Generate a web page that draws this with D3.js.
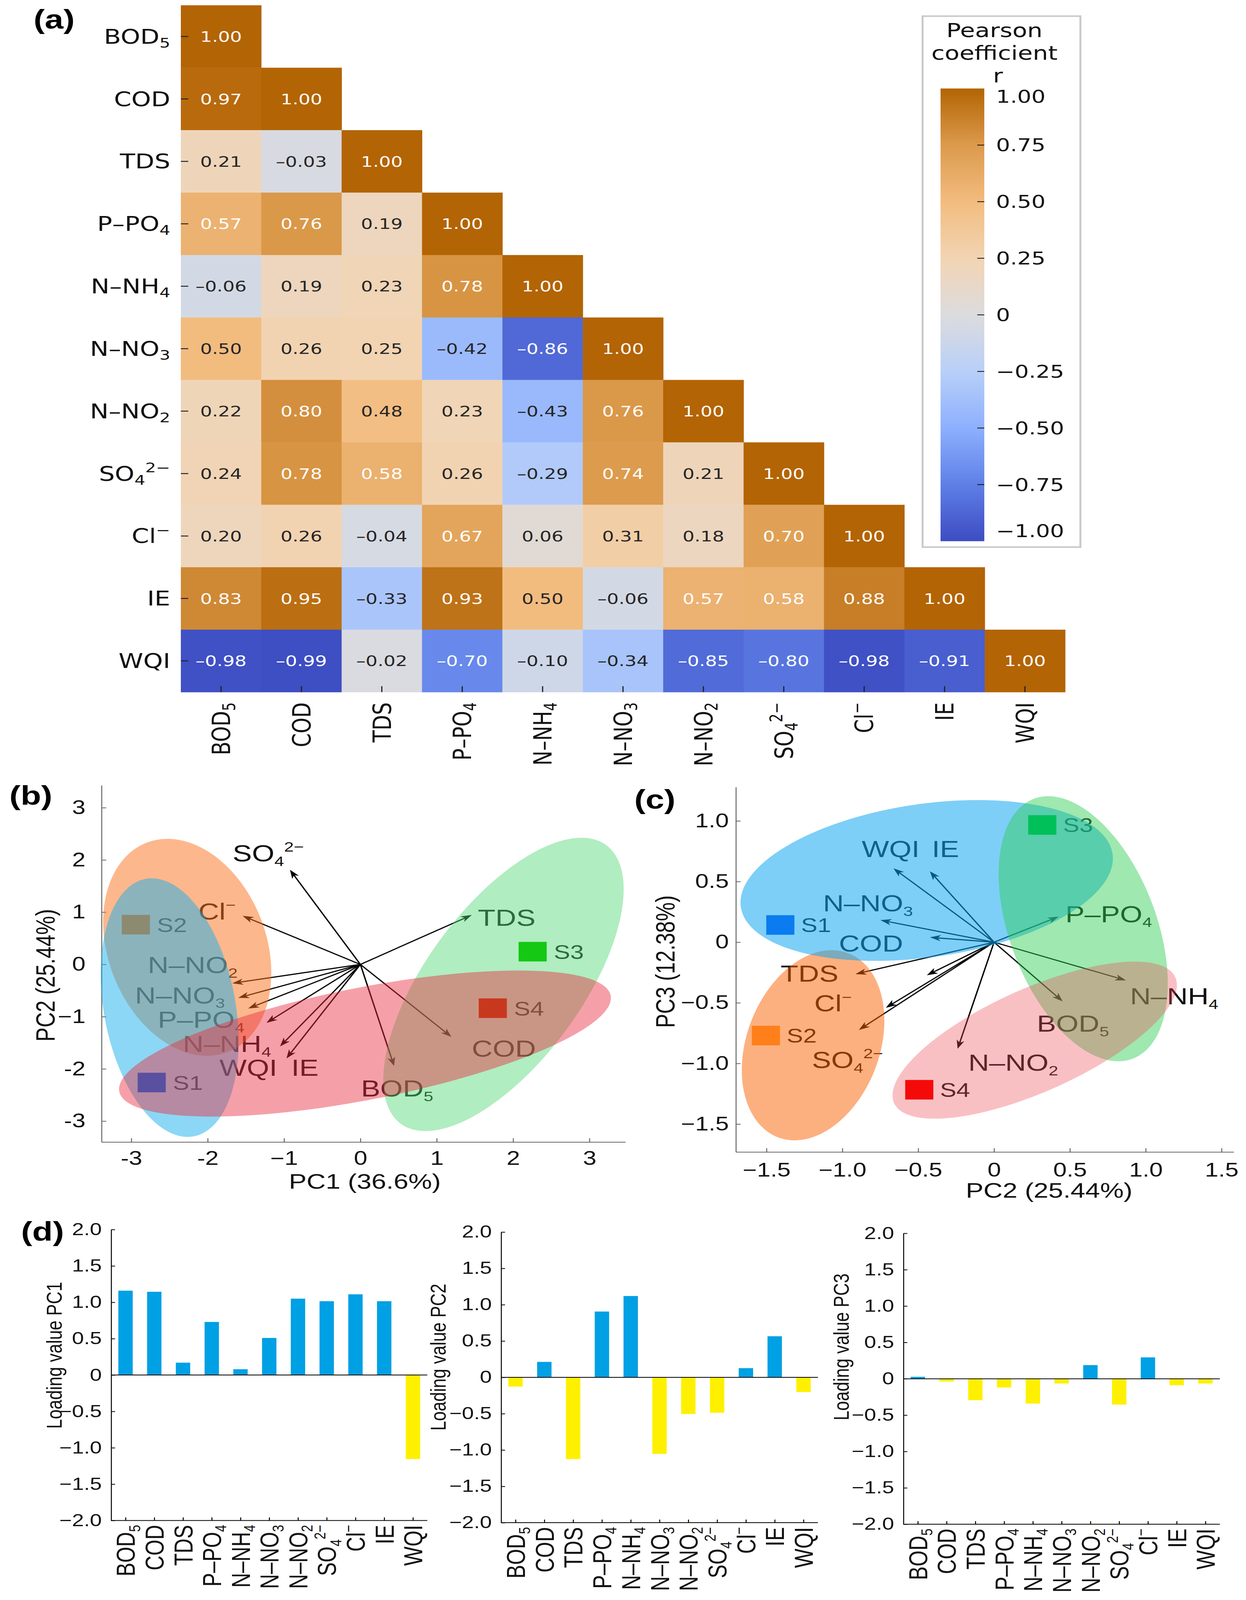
<!DOCTYPE html>
<html><head><meta charset="utf-8">
<script src="https://cdn.jsdelivr.net/npm/d3@7"></script>
<style>html,body{margin:0;padding:0;background:#fff;overflow:hidden}</style>
</head><body>
<svg id="fig" viewBox="0 0 3190 5153" preserveAspectRatio="none" style="display:block;width:100vw;height:100vh" xmlns="http://www.w3.org/2000/svg"></svg>
<script>
// ================= DATA =================
const variables = ["BOD5","COD","TDS","PPO4","NNH4","NNO3","NNO2","SO4","Cl","IE","WQI"];
const corrRows = [
  [1.00],
  [0.97, 1.00],
  [0.21, -0.03, 1.00],
  [0.57, 0.76, 0.19, 1.00],
  [-0.06, 0.19, 0.23, 0.78, 1.00],
  [0.50, 0.26, 0.25, -0.42, -0.86, 1.00],
  [0.22, 0.80, 0.48, 0.23, -0.43, 0.76, 1.00],
  [0.24, 0.78, 0.58, 0.26, -0.29, 0.74, 0.21, 1.00],
  [0.20, 0.26, -0.04, 0.67, 0.06, 0.31, 0.18, 0.70, 1.00],
  [0.83, 0.95, -0.33, 0.93, 0.50, -0.06, 0.57, 0.58, 0.88, 1.00],
  [-0.98, -0.99, -0.02, -0.70, -0.10, -0.34, -0.85, -0.80, -0.98, -0.91, 1.00]
];
const colorStops = [-1, -0.75, -0.5, -0.25, 0, 0.25, 0.5, 0.75, 1];
const colorStopColors = ["#3d4cc2","#5f7fe6","#8db0fe","#b8cff8","#dcdcde","#f2d4b3","#f2bc7f","#dc9a4c","#b36404"];
const colorbarTicks = [1, 0.75, 0.5, 0.25, 0, -0.25, -0.5, -0.75, -1];
const colorbarTickLabels = ["1.00","0.75","0.50","0.25","0","\u22120.25","\u22120.50","\u22120.75","\u22121.00"];

// PCA biplot (b): PC1 vs PC2
const sampleNames = ["S1","S2","S3","S4"];
const bArrowVars = ["SO4","Cl","TDS","NNO2","NNO3","PPO4","NNH4","WQI","IE","BOD5","COD"];
const bArrowX = [-0.922, -1.543, 1.459, -1.678, -1.600, -1.470, -1.230, -1.052, -0.968, 0.441, 1.192];
const bArrowY = [1.810, 0.930, 0.947, -0.361, -0.641, -0.844, -1.119, -1.569, -1.800, -1.943, -1.388];
const bLabelX = [-1.673, -2.123, 1.537, -2.785, -2.952, -2.655, -2.326, -1.846, -0.905, 0.008, 1.459];
const bLabelY = [1.975, 0.862, 0.739, -0.168, -0.745, -1.212, -1.679, -2.135, -2.135, -2.531, -1.762];
const bScoreX = [-2.733, -2.941, 2.256, 1.734];
const bScoreY = [-2.261, 0.761, 0.244, -0.838];
// group ellipses (b): order orange(S2), blue(S1), green(S3), red(S4)
const bEllCX = [-2.268, -2.498, 1.874, 0.060];
const bEllCY = [0.327, -0.827, -0.383, -1.515];
const bEllSdX = [1.101, 0.903, 1.574, 3.221];
const bEllSdY = [2.077, 2.475, 2.808, 1.398];
const bEllCov = [-0.5377, -0.5812, 2.868, 2.808];
const bTicks = [-3, -2, -1, 0, 1, 2, 3];
const bXTickLabels = ["-3","-2","\u22121","0","1","2","3"];
const bYTickLabels = ["-3","-2","\u22121","0","1","2","3"];

// PCA biplot (c): PC2 vs PC3
const cArrowX = [-0.663, -0.423, -0.749, -0.423, 0.426, 0.870, 0.452, -0.240, -0.914, -0.443, -0.713, -0.891];
const cArrowY = [0.609, 0.585, 0.182, 0.040, 0.211, -0.315, -0.488, -0.879, -0.263, -0.273, -0.541, -0.724];
const cLabelVars = ["WQI","IE","NNO3","COD","PPO4","NNH4","BOD5","NNO2","TDS","Cl","SO4"];
const cLabelX = [-0.872, -0.410, -1.128, -1.023, 0.470, 0.896, 0.282, -0.170, -1.407, -1.185, -1.201];
const cLabelY = [0.703, 0.703, 0.253, -0.078, 0.163, -0.512, -0.737, -1.061, -0.327, -0.571, -1.038];
const cScoreX = [-1.409, -1.504, 0.318, -0.493];
const cScoreY = [0.142, -0.770, 0.967, -1.217];
// group ellipses (c): order orange(S2), blue(S1), green(S3), pink(S4)
const cEllCX = [-1.193, -0.444, 0.588, 0.268];
const cEllCY = [-0.850, 0.509, 0.111, -0.808];
const cEllSdX = [0.470, 1.2274, 0.5575, 0.9375];
const cEllSdY = [0.784, 0.6632, 1.0932, 0.6478];
const cEllCov = [0.0959, 0.2227, -0.2524, 0.4268];
const cXTicks = [-1.5, -1, -0.5, 0, 0.5, 1, 1.5];
const cXTickLabels = ["\u22121.5","\u22121.0","\u22120.5","0","0.5","1.0","1.5"];
const cYTicks = [-1.5, -1, -0.5, 0, 0.5, 1];
const cYTickLabels = ["\u22121.5","\u22121.0","\u22120.5","0","0.5","1.0"];

// Loadings (d)
const pc1Load = [1.16, 1.145, 0.17, 0.73, 0.08, 0.51, 1.05, 1.015, 1.11, 1.015, -1.155];
const pc2Load = [-0.127, 0.213, -1.125, 0.906, 1.12, -1.053, -0.504, -0.487, 0.127, 0.566, -0.202];
const pc3Load = [0.027, -0.038, -0.294, -0.12, -0.341, -0.065, 0.188, -0.355, 0.294, -0.089, -0.065];
const dTicks = [2, 1.5, 1, 0.5, 0, -0.5, -1, -1.5, -2];
const dTickLabels = ["2.0","1.5","1.0","0.5","0","\u22120.5","\u22121.0","\u22121.5","\u22122.0"];

// ================= HELPERS =================
const svg = d3.select("#fig");
const FA = "DejaVu Sans";
const FB = "Liberation Sans, Arial, sans-serif";
const varSegs = {
  BOD5: [["BOD"],["5","sub"]], COD: [["COD"]], TDS: [["TDS"]],
  PPO4: [["P\u2013PO"],["4","sub"]], NNH4: [["N\u2013NH"],["4","sub"]],
  NNO3: [["N\u2013NO"],["3","sub"]], NNO2: [["N\u2013NO"],["2","sub"]],
  SO4: [["SO"],["4","sub"],["2\u2212","sup"]], Cl: [["Cl"],["\u2212","sup"]],
  IE: [["IE"]], WQI: [["WQI"]]
};
function richText(sel, segs, fs, subScale) {
  const sc = subScale || 0.68;
  let shift = 0;
  segs.forEach(([t, k]) => {
    let target = 0, size = fs;
    if (k === "sub") { target = 0.2 * fs; size = sc * fs; }
    else if (k === "sup") { target = -0.42 * fs; size = sc * fs; }
    const ts = sel.append("tspan").text(t).attr("font-size", size);
    const dy = target - shift;
    if (dy !== 0) ts.attr("dy", dy);
    shift = target;
  });
}
function ellipsePath(xs, ys, cx, cy, sdx, sdy, cov) {
  const a = cov / sdx, b = Math.sqrt(Math.max(sdy * sdy - a * a, 0));
  const pts = d3.range(0, 360, 2).map(deg => {
    const t = deg * Math.PI / 180;
    return [xs(cx + sdx * Math.cos(t)), ys(cy + a * Math.cos(t) + b * Math.sin(t))];
  });
  return d3.line().curve(d3.curveLinearClosed)(pts);
}
function drawArrow(g, x0, y0, x1, y1) {
  const ang = Math.atan2(y1 - y0, x1 - x0), back = 12;
  g.append("line").attr("x1", x0).attr("y1", y0)
    .attr("x2", x1 - back * Math.cos(ang)).attr("y2", y1 - back * Math.sin(ang))
    .attr("stroke", "#000").attr("stroke-width", 3.6);
  g.append("path").attr("d", "M0,0 L-28,-10 L-20,0 L-28,10 Z")
    .attr("transform", `translate(${x1},${y1}) rotate(${ang * 180 / Math.PI})`)
    .attr("fill", "#000");
}
function styleAxis(g, fs, col) {
  g.attr("font-size", fs).attr("font-family", FB);
  g.selectAll("text").attr("fill", "#111");
  g.select(".domain").attr("stroke", col).attr("stroke-width", 2.5);
  g.selectAll(".tick line").attr("stroke", col).attr("stroke-width", 2.5);
}
function panelLabel(txt, x, y) {
  svg.append("text").attr("x", x).attr("y", y).text(txt)
    .attr("font-family", FB).attr("font-weight", "bold").attr("font-size", 86).attr("fill", "#000");
}

// ================= (a) HEATMAP =================
const gA = svg.append("g");
const xA = d3.scaleBand().domain(variables).range([463, 2727]);
const yA = d3.scaleBand().domain(variables).range([17, 2229]);
const cScale = d3.scaleLinear().domain(colorStops).range(colorStopColors).interpolate(d3.interpolateRgb).clamp(true);
const cells = [];
corrRows.forEach((row, i) => row.forEach((v, j) => cells.push({ r: variables[i], c: variables[j], v })));
gA.selectAll("rect.cell").data(cells).join("rect").attr("class", "cell")
  .attr("x", d => xA(d.c)).attr("y", d => yA(d.r))
  .attr("width", xA.bandwidth() + 0.6).attr("height", yA.bandwidth() + 0.6)
  .attr("fill", d => cScale(d.v));
gA.selectAll("text.val").data(cells).join("text").attr("class", "val")
  .attr("x", d => xA(d.c) + xA.bandwidth() / 2)
  .attr("y", d => yA(d.r) + yA.bandwidth() / 2 + 17)
  .attr("text-anchor", "middle").attr("font-family", FA).attr("font-size", 48)
  .attr("fill", d => Math.abs(d.v) >= 0.55 ? "#ffffff" : "#262626")
  .text(d => (d.v < 0 ? "\u2013" : "") + Math.abs(d.v).toFixed(2));
variables.forEach(v => {
  const yc = yA(v) + yA.bandwidth() / 2;
  gA.append("line").attr("x1", 463).attr("x2", 482).attr("y1", yc).attr("y2", yc)
    .attr("stroke", "#222").attr("stroke-width", 3);
  const t = gA.append("text").attr("x", 436).attr("y", yc + 23).attr("text-anchor", "end")
    .attr("font-family", FA).attr("font-size", 64).attr("fill", "#111");
  richText(t, varSegs[v], 64);
  const xc = xA(v) + xA.bandwidth() / 2;
  gA.append("line").attr("x1", xc).attr("x2", xc).attr("y1", 2229).attr("y2", 2210)
    .attr("stroke", "#222").attr("stroke-width", 3);
  const tx = gA.append("text").attr("transform", `translate(${xc},2262) rotate(-90)`)
    .attr("x", 0).attr("y", 23).attr("text-anchor", "end")
    .attr("font-family", FA).attr("font-size", 64).attr("fill", "#111");
  richText(tx, varSegs[v], 64);
});
gA.append("rect").attr("x", 2362).attr("y", 52).attr("width", 404).attr("height", 1710)
  .attr("fill", "#fff").attr("stroke", "#c8c8c8").attr("stroke-width", 5);
[["Pearson", 2546, 120], ["coefficient", 2546, 193], ["r", 2555, 266]].forEach(([t, x, y]) => {
  gA.append("text").attr("x", x).attr("y", y).attr("text-anchor", "middle")
    .attr("font-family", FA).attr("font-size", 62).attr("fill", "#111").text(t);
});
const cbY = d3.scaleLinear().domain([-1, 1]).range([1743, 285]);
const defs = svg.append("defs");
const grad = defs.append("linearGradient").attr("id", "cbgrad")
  .attr("x1", 0).attr("y1", 1).attr("x2", 0).attr("y2", 0);
d3.range(-1, 1.0001, 0.05).forEach(v => {
  grad.append("stop").attr("offset", (v + 1) / 2).attr("stop-color", cScale(v));
});
gA.append("rect").attr("x", 2408).attr("y", cbY(1)).attr("width", 112)
  .attr("height", cbY(-1) - cbY(1)).attr("fill", "url(#cbgrad)");
colorbarTicks.forEach((v, i) => {
  if (Math.abs(v) < 1) {
    gA.append("line").attr("x1", 2502).attr("x2", 2520).attr("y1", cbY(v)).attr("y2", cbY(v))
      .attr("stroke", "#111").attr("stroke-width", 2.5);
  }
  const yy = Math.min(Math.max(cbY(v), 311), 1710);
  gA.append("text").attr("x", 2550).attr("y", yy + 20)
    .attr("font-family", FA).attr("font-size", 57).attr("fill", "#111").text(colorbarTickLabels[i]);
});
panelLabel("(a)", 86, 92);

// ================= (b) BIPLOT PC1-PC2 =================
const gB = svg.append("g");
const xB = d3.scaleLinear().domain([-3.39, 3.47]).range([260, 1601]);
const yB = d3.scaleLinear().domain([-3.40, 3.43]).range([3678, 2529]);
const axBx = gB.append("g").attr("transform", "translate(0,3678)")
  .call(d3.axisBottom(xB).tickValues(bTicks).tickFormat((d, i) => bXTickLabels[i])
    .tickSizeInner(-12).tickSizeOuter(0).tickPadding(30));
styleAxis(axBx, 62, "#666");
const axBy = gB.append("g").attr("transform", "translate(260,0)")
  .call(d3.axisLeft(yB).tickValues(bTicks).tickFormat((d, i) => bYTickLabels[i])
    .tickSizeInner(-12).tickSizeOuter(0).tickPadding(41));
styleAxis(axBy, 62, "#666");
gB.append("text").attr("x", 934).attr("y", 3828).attr("text-anchor", "middle")
  .attr("font-family", FB).attr("font-size", 68).attr("fill", "#111").text("PC1 (36.6%)");
gB.append("text").attr("transform", "translate(140,3141) rotate(-90)").attr("text-anchor", "middle")
  .attr("font-family", FB).attr("font-size", 68).attr("fill", "#111").text("PC2 (25.44%)");
bArrowX.forEach((x, i) => drawArrow(gB, xB(0), yB(0), xB(x), yB(bArrowY[i])));
bArrowVars.forEach((v, i) => {
  const t = gB.append("text").attr("x", xB(bLabelX[i])).attr("y", yB(bLabelY[i]))
    .attr("font-family", FB).attr("font-size", 74).attr("fill", "#111");
  richText(t, varSegs[v], 74, 0.6);
});
sampleNames.forEach((s, i) => {
  gB.append("text").attr("x", xB(bScoreX[i]) + 36 + 18).attr("y", yB(bScoreY[i]) + 24)
    .attr("font-family", FB).attr("font-size", 63).attr("fill", "#111").text(s);
});
const bEllColors = ["rgba(251,111,25,0.5)", "rgba(25,175,235,0.5)", "rgba(79,215,115,0.45)", "rgba(233,44,62,0.45)"];
bEllCX.forEach((cx, i) => {
  gB.append("path").attr("d", ellipsePath(xB, yB, cx, bEllCY[i], bEllSdX[i], bEllSdY[i], bEllCov[i]))
    .attr("fill", bEllColors[i]).attr("stroke", "none");
});
const bMarkColors = ["#5a50a0", "#8c8a70", "#14c814", "#c8381e"];
sampleNames.forEach((s, i) => {
  gB.append("rect").attr("x", xB(bScoreX[i]) - 36).attr("y", yB(bScoreY[i]) - 31.5)
    .attr("width", 72).attr("height", 63).attr("fill", bMarkColors[i]);
});
panelLabel("(b)", 24, 2592);

// ================= (c) BIPLOT PC2-PC3 =================
const gC = svg.append("g");
const xC = d3.scaleLinear().domain([-1.702, 1.580]).range([1884, 3158.5]);
const yC = d3.scaleLinear().domain([-1.730, 1.279]).range([3710, 2535]);
const axCx = gC.append("g").attr("transform", "translate(0,3710)")
  .call(d3.axisBottom(xC).tickValues(cXTicks).tickFormat((d, i) => cXTickLabels[i])
    .tickSizeInner(-12).tickSizeOuter(0).tickPadding(35));
styleAxis(axCx, 62, "#666");
const axCy = gC.append("g").attr("transform", "translate(1884,0)")
  .call(d3.axisLeft(yC).tickValues(cYTicks).tickFormat((d, i) => cYTickLabels[i])
    .tickSizeInner(-12).tickSizeOuter(0).tickPadding(18));
styleAxis(axCy, 62, "#666");
gC.append("text").attr("x", 2686).attr("y", 3857).attr("text-anchor", "middle")
  .attr("font-family", FB).attr("font-size", 68).attr("fill", "#111").text("PC2 (25.44%)");
gC.append("text").attr("transform", "translate(1727,3097) rotate(-90)").attr("text-anchor", "middle")
  .attr("font-family", FB).attr("font-size", 68).attr("fill", "#111").text("PC3 (12.38%)");
cArrowX.forEach((x, i) => drawArrow(gC, xC(0), yC(0), xC(x), yC(cArrowY[i])));
cLabelVars.forEach((v, i) => {
  const t = gC.append("text").attr("x", xC(cLabelX[i])).attr("y", yC(cLabelY[i]))
    .attr("font-family", FB).attr("font-size", 74).attr("fill", "#111");
  richText(t, varSegs[v], 74, 0.6);
});
sampleNames.forEach((s, i) => {
  gC.append("text").attr("x", xC(cScoreX[i]) + 36 + 17).attr("y", yC(cScoreY[i]) + 23)
    .attr("font-family", FB).attr("font-size", 63).attr("fill", "#111").text(s);
});
const cEllColors = ["rgba(251,97,0,0.5)", "rgba(14,166,240,0.54)", "rgba(46,205,83,0.46)", "rgba(238,75,86,0.35)"];
cEllCX.forEach((cx, i) => {
  gC.append("path").attr("d", ellipsePath(xC, yC, cx, cEllCY[i], cEllSdX[i], cEllSdY[i], cEllCov[i]))
    .attr("fill", cEllColors[i]).attr("stroke", "none");
});
const cMarkColors = ["#0a7cf0", "#ff7f1a", "#00c05a", "#f50a0a"];
sampleNames.forEach((s, i) => {
  gC.append("rect").attr("x", xC(cScoreX[i]) - 36).attr("y", yC(cScoreY[i]) - 31.5)
    .attr("width", 72).attr("height", 63).attr("fill", cMarkColors[i]);
});
panelLabel("(c)", 1624, 2604);

// ================= (d) LOADINGS =================
function drawLoadings(vals, title, x0, x1, yBot, yTop, titleX, titleY) {
  const g = svg.append("g");
  const xs = d3.scalePoint().domain(variables).range([x0, x1]).padding(0.5);
  const ys = d3.scaleLinear().domain([-2, 2]).range([yBot, yTop]);
  const bw = xs.step() * 0.5;
  g.selectAll("rect").data(vals).join("rect")
    .attr("x", (d, i) => xs(variables[i]) - bw / 2)
    .attr("y", d => Math.min(ys(d), ys(0)))
    .attr("width", bw).attr("height", d => Math.abs(ys(d) - ys(0)))
    .attr("fill", d => d >= 0 ? "#00a0e4" : "#fff000");
  g.append("line").attr("x1", x0).attr("x2", x1).attr("y1", ys(0)).attr("y2", ys(0))
    .attr("stroke", "#000").attr("stroke-width", 2.5);
  const ay = g.append("g").attr("transform", `translate(${x0},0)`)
    .call(d3.axisLeft(ys).tickValues(dTicks).tickFormat((d, i) => dTickLabels[i])
      .tickSizeInner(-10).tickSizeOuter(0).tickPadding(24));
  styleAxis(ay, 55, "#000");
  const ax = g.append("g").attr("transform", `translate(0,${yBot})`)
    .call(d3.axisBottom(xs).tickFormat("").tickSizeInner(-10).tickSizeOuter(0));
  styleAxis(ax, 55, "#000");
  ax.select(".domain").attr("d", `M${x0},0H${x1}`);
  variables.forEach(v => {
    const t = g.append("text").attr("transform", `translate(${xs(v)},${yBot + 14}) rotate(-90)`)
      .attr("x", 0).attr("y", 24).attr("text-anchor", "end")
      .attr("font-family", FB).attr("font-size", 66).attr("fill", "#111");
    richText(t, varSegs[v], 66, 0.62);
  });
  g.append("text").attr("transform", `translate(${titleX},${titleY}) rotate(-90)`)
    .attr("text-anchor", "middle").attr("font-family", FB).attr("font-size", 56)
    .attr("fill", "#111").text(title);
}
drawLoadings(pc1Load, "Loading value PC1", 284.6, 1094, 4897, 3960, 158, 4365);
drawLoadings(pc2Load, "Loading value PC2", 1283, 2094, 4904, 3968, 1141, 4371);
drawLoadings(pc3Load, "Loading value PC3", 2313, 3123, 4909, 3972, 2173, 4338);
panelLabel("(d)", 54, 3995);
</script>
</body></html>
